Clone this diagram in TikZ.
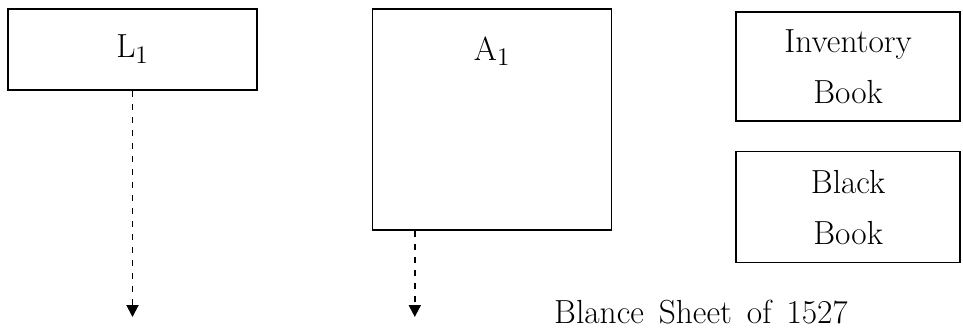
\documentclass[tikz,border=0pt]{standalone}
\usepackage{tikz}
\usetikzlibrary{positioning,arrows.meta}

\begin{document}
\begin{tikzpicture}[
    font=\fontsize{19}{29}\selectfont,
    box/.style={rectangle, draw=black, line width=0.9pt, align=center, inner sep=0pt},
    bookbox/.style={box, minimum width=4.48cm},
    arrow/.style={-{Triangle[length=2.4mm, width=2.4mm]}, line width=1.1pt, dash pattern=on 0.12cm off 0.14cm}
  ]
    \useasboundingbox (0,0) rectangle (19.26,-6.54);

    % Boxes
    \node[box, minimum width=4.98cm, minimum height=1.62cm] (l1) at (2.65,-0.99) {L$_1$};
    \node[box, minimum width=4.78cm, minimum height=4.42cm, right=2.28cm of l1.north east, anchor=north west,
      label={[anchor=center, yshift=-0.86cm]north:A$_1$}] (a1) {};
    \node[bookbox, minimum height=2.18cm, right=2.46cm of a1.north east, anchor=north west, yshift=-0.06cm] (inv) {Inventory\\Book};
    \node[bookbox, minimum height=2.22cm, below=0.58cm of inv] (black) {Black\\Book};

    % Title
    \node[anchor=base] (title) at (14.02,-6.46) {\spaceskip=0.45em plus 0.1em\relax Blance Sheet of 1527};

    % Connections
    \coordinate (l1tip) at (l1.south |- 0,-6.34);
    \coordinate (a1out) at ([xshift=0.86cm]a1.south west);
    \coordinate (a1tip) at (a1out |- l1tip);
    \draw[arrow] (l1) -- (l1tip);
    \draw[arrow] (a1out) -- (a1tip);
\end{tikzpicture}
\end{document}
